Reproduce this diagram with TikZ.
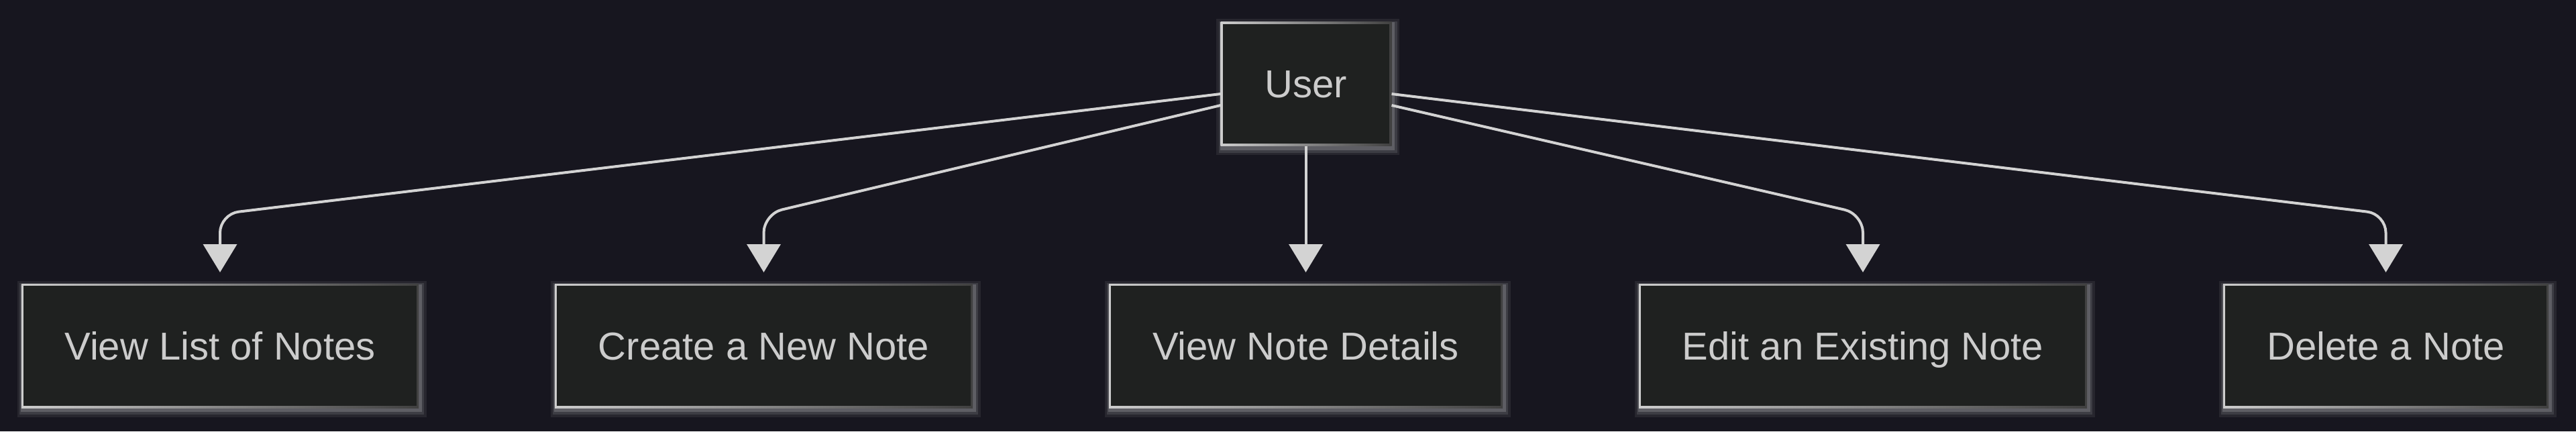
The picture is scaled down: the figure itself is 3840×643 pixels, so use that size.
\documentclass[tikz,border=0pt]{standalone}
\usepackage{fontspec}
\setmainfont{Liberation Sans}
\usetikzlibrary{arrows.meta,positioning,calc}

\definecolor{bgcol}{HTML}{17161F}
\definecolor{boxfill}{HTML}{1F2120}
\definecolor{edgecol}{HTML}{D3D3D3}
\definecolor{txtcol}{HTML}{CCCCCC}
\definecolor{bordL}{HTML}{CDCDCD}
\definecolor{bordR}{HTML}{404040}
\definecolor{glowcol}{HTML}{E4E4E4}

\tikzset{
  usecase/.style={rectangle, inner sep=0pt, outer sep=0pt, minimum height=46.25pt,
    text height=10.4pt, text depth=0pt,
    shade, left color=bordL, right color=bordR,
    text=txtcol, font=\fontsize{14.5}{17.4}\selectfont,
    preaction={draw=glowcol, line width=4.5pt, opacity=0.08, transform canvas={shift={(0.7pt,-1.2pt)}}},
    preaction={draw=glowcol, line width=2.8pt, opacity=0.12, transform canvas={shift={(0.7pt,-1.2pt)}}},
    preaction={draw=glowcol, line width=1.4pt, opacity=0.20, transform canvas={shift={(0.5pt,-0.9pt)}}},
    path picture={\fill[boxfill] ([shift={(0.85pt,0.85pt)}]path picture bounding box.south west)
      rectangle ([shift={(-0.85pt,-0.85pt)}]path picture bounding box.north east);}},
  link/.style={draw=edgecol, line width=1pt, rounded corners=7pt,
    -{Triangle[width=12.5pt,length=10.5pt]}, shorten >=4.25pt}
}

\begin{document}
\begin{tikzpicture}[x=0.25pt,y=-0.25pt]
\useasboundingbox (0,0) rectangle (3840,643);
\fill[bgcol] (0,0) rectangle (3840,643);
\def\gap{50.75pt}
\coordinate (bend) at (0,319);
% top node
\node[usecase, minimum width=63.75pt] (U) at (1947,125) {User};
% the five actions
\node[usecase, minimum width=148pt] (L) at (328,515.5) {View List of Notes};
\node[usecase, minimum width=155.75pt, right=\gap of L] (C) {Create a New Note};
\node[usecase, minimum width=146.75pt, right=\gap of C] (V) {View Note Details};
\node[usecase, minimum width=167pt, right=\gap of V] (E) {Edit an Existing Note};
\node[usecase, minimum width=121.25pt, right=\gap of E] (D) {Delete a Note};
% connectors
\foreach \tgt/\side/\dy in {L/west/15, C/west/32, E/east/32, D/east/15} {
  \draw[link] ($(U.\side)+(0,\dy)$) -- (\tgt.north |- bend) -- (\tgt.north);
}
\draw[link] (V.north |- U.south) -- (V.north);
\end{tikzpicture}
\end{document}
